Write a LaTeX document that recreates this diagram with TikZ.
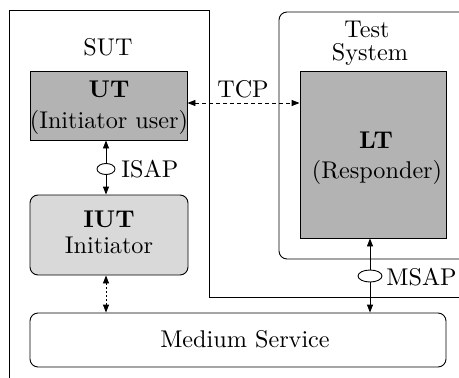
\documentclass[tikz,border=0pt]{standalone}
\usepackage{fontspec}
\newfontfamily\lmten{lmroman10-regular.otf}[BoldFont=lmroman10-bold.otf]
\usetikzlibrary{arrows.meta,shapes.geometric}
\definecolor{darkfill}{HTML}{B3B3B3}
\definecolor{lightfill}{HTML}{D9D9D9}
\tikzset{
  every picture/.style={line width=0.9pt},
  txt/.style={anchor=base,inner sep=0pt,font=\lmten\fontsize{24.2}{28}\selectfont},
  bx/.style={draw,line width=0.9pt,inner sep=0pt},
  sap/.style={draw,ellipse,fill=white,inner sep=0pt,line width=0.9pt},
  tip/.style={{Triangle[length=8pt,width=6pt]}-{Triangle[length=8pt,width=6pt]}},
}
\begin{document}
\begin{tikzpicture}[x=1pt,y=-1pt]
\useasboundingbox (0,0) rectangle (459,378);
\clip (0,0) rectangle (459,378);
% SUT outline
\draw (9,390) -- (9,10) -- (209,10) -- (209,297) -- (470,297);
% Test system outline
\draw[rounded corners=8pt] (279,12) rectangle (480,259);
% boxes
\node[bx,fill=darkfill,minimum width=157pt,minimum height=69pt] (ut) at (108.5,105.5) {};
\node[bx,fill=darkfill,minimum width=146pt,minimum height=167pt] (lt) at (373,154.5) {};
\node[bx,fill=lightfill,rounded corners=8pt,minimum width=158pt,minimum height=80pt] (iut) at (109,235) {};
\node[bx,fill=white,rounded corners=8pt,minimum width=416pt,minimum height=54pt] (ms) at (238,340) {};
% texts
\node[txt] (sutlbl) at (108,55) {SUT};
\node[txt] (testlbl) at (367,37) {Test};
\node[txt] (syslbl) at (370,60) {System};
\node[txt] (utlbl) at (109,97) {\textbf{UT}};
\node[txt] (utsub) at (109,128) {(Initiator user)};
\node[txt] (ltlbl) at (376,148) {\textbf{LT}};
\node[txt] (ltsub) at (377,178) {(Responder)};
\node[txt] (iutlbl) at (109,227) {\textbf{IUT}};
\node[txt] (iutsub) at (109,253) {Initiator};
\node[txt] (mslbl) at (245,347) {Medium Service};
\node[txt] (tcplbl) at (243,97) {TCP};
% SAPs
\node[sap,minimum width=18pt,minimum height=11pt] (isap) at (106,169) {};
\node[sap,minimum width=24pt,minimum height=12pt] (msap) at (370,276) {};
\node[txt,anchor=base west] (isaplbl) at (121,177) {ISAP};
\node[txt,anchor=base west] (msaplbl) at (386,285) {MSAP};
% connectors
\draw[tip,dash pattern=on 4pt off 3pt] (ut.east |- 0,103) -- (lt.west |- 0,103);
\draw[{Triangle[length=8pt,width=6pt]}-] (ut.south -| isap) -- (isap.north);
\draw[-{Triangle[length=8pt,width=6pt]}] (isap.south) -- (iut.north -| isap);
\draw[{Triangle[length=8pt,width=6pt]}-] (lt.south -| msap) -- (msap.north);
\draw[-{Triangle[length=8pt,width=6pt]}] (msap.south) -- (ms.north -| msap);
\draw[tip,dash pattern=on 2pt off 2pt] (iut.south -| isap) -- (ms.north -| isap);
\end{tikzpicture}
\end{document}
